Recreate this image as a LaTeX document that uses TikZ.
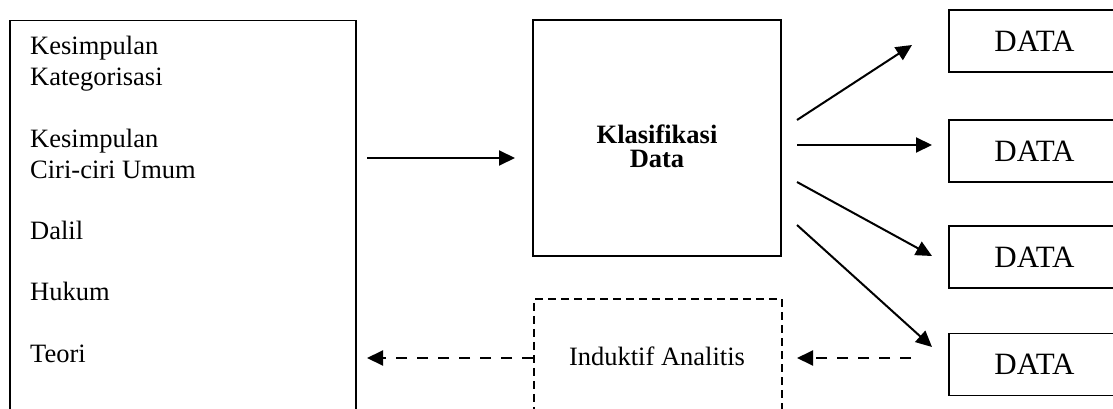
\documentclass[tikz,border=0pt]{standalone}
\usepackage{fontspec}
\setmainfont{Liberation Serif}
\usetikzlibrary{arrows.meta}
\begin{document}
\begin{tikzpicture}[x=1pt,y=-1pt,
  box/.style={draw,line width=1.5pt,inner sep=0pt},
  arr/.style={line width=2pt,-{Triangle[length=16pt,width=15pt]}},
  darr/.style={arr,dash pattern=on 11pt off 10pt},
  dbox/.style={box,dash pattern=on 8pt off 5pt},
  txt/.style={font=\fontsize{26.5}{30.8}\selectfont,inner sep=0pt,anchor=base west},
  ctxt/.style={font=\fontsize{26.5}{30.8}\selectfont,inner sep=0pt,anchor=base},
  btxt/.style={font=\fontsize{26.5}{30.8}\selectfont\bfseries,inner sep=0pt,anchor=base},
  datab/.style={box,minimum width=171pt,minimum height=62pt,font=\fontsize{31}{36}\selectfont}]
\useasboundingbox (0,0) rectangle (1113,409);
\clip (0,0) rectangle (1113,409);
% left box
\node[box,anchor=north west,minimum width=346pt,minimum height=420pt] (L) at (9,20) {};
\node[txt] (t1) at (30,55) {Kesimpulan};
\node[txt] (t2) at (30,86) {Kategorisasi};
\node[txt] (t3) at (30,147) {Kesimpulan};
\node[txt] (t4) at (30,178) {Ciri-ciri Umum};
\node[txt] (t5) at (30,239) {Dalil};
\node[txt] (t6) at (30,300) {Hukum};
\node[txt] (t7) at (30,362) {Teori};
% Klasifikasi box
\node[box,minimum width=248pt,minimum height=236pt] (K) at (657,138) {};
\node[btxt] (k1) at (657,143) {Klasifikasi};
\node[btxt] (k2) at (657,167) {Data};
% Induktif box
\node[dbox,anchor=north west,minimum width=248pt,minimum height=150pt] (I) at (533,298) {};
\node[ctxt] (i1) at (657,365) {Induktif Analitis};
% DATA boxes
\node[datab] (D1) at (1034.5,41) {DATA};
\node[datab] (D2) at (1034.5,151) {DATA};
\node[datab] (D3) at (1034.5,257) {DATA};
\node[datab] (D4) at (1034.5,364.5) {DATA};
% arrow ends
\coordinate (a0s) at (367,158); \coordinate (a0e) at (515,158);
\coordinate (a1s) at (797,120); \coordinate (a1e) at (912,45);
\coordinate (a2s) at (797,145); \coordinate (a2e) at (932,145);
\coordinate (a3s) at (797,182); \coordinate (a3e) at (932,256);
\coordinate (a4s) at (797,225); \coordinate (a4e) at (932,347);
\coordinate (b1s) at (911,358); \coordinate (b1e) at (797,358);
\coordinate (b2s) at (533,358); \coordinate (b2e) at (367,358);
\draw[arr] (a0s) -- (a0e);
\draw[arr] (a1s) -- (a1e);
\draw[arr] (a2s) -- (a2e);
\draw[arr] (a3s) -- (a3e);
\draw[arr] (a4s) -- (a4e);
\draw[darr] (b1s) -- (b1e);
\draw[darr] (b2s) -- (b2e);
\end{tikzpicture}
\end{document}
